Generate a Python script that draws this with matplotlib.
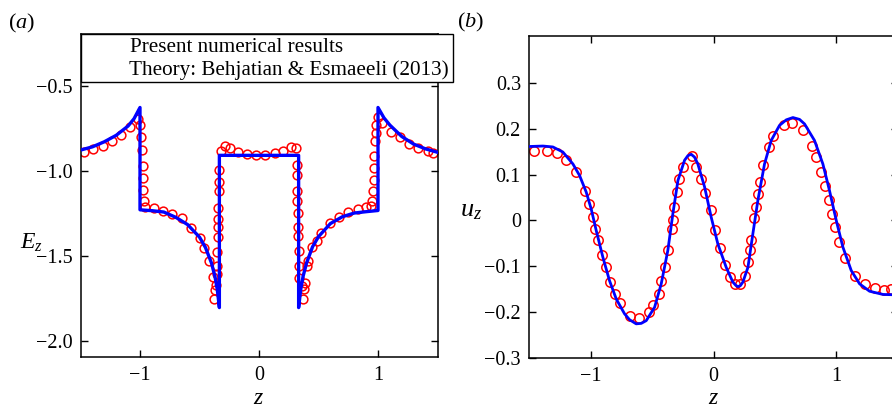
import matplotlib
matplotlib.use("Agg")
import matplotlib.pyplot as plt
from matplotlib.patches import Rectangle

plt.rcParams['font.family'] = ['Liberation Serif', 'DejaVu Serif']
plt.rcParams['mathtext.fontset'] = 'custom'
plt.rcParams['mathtext.rm'] = 'Liberation Serif'
plt.rcParams['mathtext.it'] = 'Liberation Serif:italic'

# ---------------- data: panel (a) ----------------
theory_a_z = [-1.5, -1.4, -1.3, -1.2, -1.1, -1.05, -1.0,
              -1.0, -0.9, -0.8, -0.7, -0.6, -0.5, -0.45, -0.4, -0.37, -0.35, -0.333,
              -0.333, 0.333,
              0.333, 0.35, 0.37, 0.4, 0.45, 0.5, 0.6, 0.7, 0.8, 0.9, 1.0,
              1.0, 1.05, 1.1, 1.2, 1.3, 1.4, 1.5]
theory_a_E = [-0.875, -0.856, -0.826, -0.788, -0.733, -0.690, -0.624,
              -1.227, -1.232, -1.240, -1.271, -1.314, -1.388, -1.449, -1.539, -1.62, -1.70, -1.803,
              -0.906, -0.906,
              -1.803, -1.70, -1.62, -1.54, -1.445, -1.385, -1.308, -1.268, -1.246, -1.238, -1.231,
              -0.624, -0.685, -0.728, -0.795, -0.840, -0.868, -0.888]

num_a_z = [-1.473, -1.394, -1.315, -1.237, -1.162, -1.083, -1.016, -1.002, -0.991, -0.985,
           -0.977, -0.974, -0.974, -0.968, -0.954, -0.884, -0.806, -0.728, -0.649, -0.571,
           -0.492, -0.458, -0.419, -0.385, -0.373, -0.379, -0.362, -0.357, -0.352, -0.349,
           -0.344, -0.344, -0.344, -0.344, -0.336, -0.336, -0.336, -0.316, -0.288, -0.240,
           -0.179, -0.103, -0.024, 0.054, 0.132, 0.205, 0.267, 0.315, 0.322, 0.320,
           0.322, 0.322, 0.327, 0.329, 0.329, 0.334, 0.338, 0.338, 0.359, 0.367,
           0.378, 0.385, 0.400, 0.409, 0.443, 0.485, 0.519, 0.600, 0.675, 0.750,
           0.836, 0.903, 0.945, 0.953, 0.959, 0.965, 0.968, 0.970, 0.975, 0.981,
           0.984, 0.998, 1.037, 1.107, 1.183, 1.261, 1.340, 1.416, 1.466]
num_a_E = [-0.888, -0.871, -0.849, -0.821, -0.786, -0.741, -0.690, -0.729, -0.798, -0.872,
           -0.968, -1.039, -1.108, -1.176, -1.208, -1.219, -1.233, -1.249, -1.278, -1.333,
           -1.394, -1.451, -1.530, -1.623, -1.700, -1.751, -1.672, -1.608, -1.559, -1.475,
           -1.385, -1.331, -1.284, -1.214, -1.116, -1.063, -0.994, -0.882, -0.853, -0.865,
           -0.888, -0.900, -0.904, -0.902, -0.892, -0.878, -0.857, -0.863, -0.961, -1.019,
           -1.118, -1.176, -1.245, -1.327, -1.382, -1.472, -1.559, -1.627, -1.676, -1.755,
           -1.692, -1.661, -1.559, -1.530, -1.447, -1.412, -1.362, -1.304, -1.268, -1.241,
           -1.225, -1.211, -1.205, -1.176, -1.116, -1.052, -0.980, -0.908, -0.824, -0.774,
           -0.725, -0.682, -0.717, -0.766, -0.800, -0.839, -0.862, -0.882, -0.892]

# ---------------- data: panel (b) ----------------
theory_b_z = [-1.498, -1.389, -1.308, -1.227, -1.145, -1.091, -1.037, -0.996, -0.955, -0.901,
              -0.847, -0.792, -0.725, -0.684, -0.630, -0.589, -0.548, -0.480, -0.426, -0.372,
              -0.331, -0.290, -0.236, -0.209, -0.182, -0.155, -0.128, -0.073, -0.019, 0.035,
              0.103, 0.157, 0.180, 0.198, 0.218, 0.239, 0.280, 0.320, 0.361, 0.415,
              0.469, 0.537, 0.592, 0.646, 0.700, 0.741, 0.822, 0.890, 0.944, 0.999,
              1.053, 1.121, 1.189, 1.270, 1.379, 1.500]
theory_b_u = [0.161, 0.162, 0.160, 0.149, 0.123, 0.098, 0.062, 0.025, -0.022, -0.080,
              -0.131, -0.171, -0.203, -0.216, -0.225, -0.224, -0.218, -0.189, -0.138, -0.065,
              0.015, 0.087, 0.131, 0.141, 0.144, 0.138, 0.123, 0.073, 0.007, -0.051,
              -0.102, -0.134, -0.141, -0.144, -0.142, -0.134, -0.102, -0.029, 0.044, 0.123,
              0.174, 0.207, 0.219, 0.224, 0.220, 0.210, 0.174, 0.123, 0.065, 0.000,
              -0.058, -0.109, -0.138, -0.154, -0.161, -0.162]

num_b_z = [-1.463, -1.357, -1.275, -1.199, -1.118, -1.047, -1.012, -0.982, -0.966, -0.939,
           -0.906, -0.879, -0.841, -0.801, -0.760, -0.684, -0.608, -0.529, -0.494, -0.448,
           -0.426, -0.396, -0.369, -0.339, -0.331, -0.318, -0.299, -0.285, -0.247, -0.174,
           -0.141, -0.100, -0.068, -0.024, 0.011, 0.054, 0.092, 0.133, 0.174, 0.214,
           0.252, 0.282, 0.296, 0.307, 0.331, 0.342, 0.361, 0.377, 0.404, 0.448,
           0.486, 0.570, 0.640, 0.725, 0.801, 0.836, 0.877, 0.904, 0.939, 0.966,
           0.990, 1.020, 1.072, 1.148, 1.235, 1.311, 1.387, 1.446]
num_b_u = [0.152, 0.151, 0.147, 0.132, 0.105, 0.064, 0.035, 0.007, -0.018, -0.042,
           -0.076, -0.102, -0.133, -0.160, -0.179, -0.207, -0.213, -0.200, -0.183, -0.160,
           -0.131, -0.102, -0.064, -0.019, 0.000, 0.030, 0.062, 0.091, 0.116, 0.141,
           0.116, 0.091, 0.060, 0.022, -0.020, -0.060, -0.098, -0.122, -0.139, -0.139,
           -0.120, -0.091, -0.065, -0.042, 0.006, 0.029, 0.058, 0.083, 0.121, 0.160,
           0.183, 0.208, 0.212, 0.196, 0.163, 0.138, 0.105, 0.076, 0.045, 0.015,
           -0.015, -0.047, -0.082, -0.120, -0.139, -0.147, -0.151, -0.149]

xticks = [-1, 0, 1]
xticklabels = ['\u22121', '0', '1']
yticks_a = [-2.0, -1.5, -1.0, -0.5]
yticklabels_a = ['\u22122.0', '\u22121.5', '\u22121.0', '\u22120.5']
yticks_b = [-0.3, -0.2, -0.1, 0.0, 0.1, 0.2, 0.3]
yticklabels_b = ['\u22120.3', '\u22120.2', '\u22120.1', '0', '0.1', '0.2', '0.3']
legend_labels = ['Present numerical results', 'Theory: Behjatian & Esmaeeli (2013)']

W, H = 892, 408
fig = plt.figure(figsize=(W / 100, H / 100), dpi=100)

def fx(p):
    return p / W

def fy(p):
    return 1 - p / H

ax1 = fig.add_axes([fx(80.5), fy(357.3), (437.5 - 80.5) / W, (357.3 - 34) / H])
ax2 = fig.add_axes([fx(529.3), fy(358.3), 368.5 / W, (358.3 - 36) / H])

FS = 14.5
red = '#ff0000'
blue = '#0000ff'

ax1.plot(num_a_z, num_a_E, 'o', ms=6.3, mfc='none', mec=red, mew=1.1, zorder=2)
ax1.plot(theory_a_z, theory_a_E, '-', color=blue, lw=2.4, zorder=3)
ax1.set_xlim(-1.5, 1.5)
ax1.set_ylim(-2.096, -0.191)
ax1.set_yticks(yticks_a)
ax1.set_yticklabels(yticklabels_a)

ax2.plot(num_b_z, num_b_u, 'o', ms=6.8, mfc='none', mec=red, mew=1.1, zorder=2)
ax2.plot(theory_b_z, theory_b_u, '-', color=blue, lw=2.0, zorder=3)
ax2.set_xlim(-1.5, 1.5)
ax2.set_ylim(-0.3, 0.4015)
ax2.set_yticks(yticks_b)
ax2.set_yticklabels(yticklabels_b)

for ax in (ax1, ax2):
    ax.set_xticks(xticks)
    ax.set_xticklabels(xticklabels)
    ax.tick_params(direction='in', length=5, width=1.0, top=True, right=True,
                   labelsize=FS, pad=6)
    ax.tick_params(axis='y', pad=6)
    for s in ax.spines.values():
        s.set_linewidth(1.1)

# legend box (panel a)
rect = Rectangle((fx(80.7), fy(82)), (452.7 - 80.7) / W, 48 / H, transform=fig.transFigure,
                 facecolor='white', edgecolor='black', lw=1.0, zorder=5)
fig.add_artist(rect)
fig.text(fx(130), fy(47), legend_labels[0], fontsize=15.2, va='center', ha='left', zorder=6)
fig.text(fx(129), fy(70), legend_labels[1], fontsize=15.2, va='center', ha='left', zorder=6)

# panel labels and axis labels
fig.text(fx(8), fy(23), '($a$)', fontsize=16, va='center', ha='left')
fig.text(fx(457), fy(22), '($b$)', fontsize=16, va='center', ha='left')
fig.text(fx(31), fy(243), '$E_z$', fontsize=17, va='center', ha='center')
fig.text(fx(471), fy(211), '$u_z$', fontsize=19, va='center', ha='center')
fig.text(fx(259), fy(399), '$z$', fontsize=17, va='center', ha='center')
fig.text(fx(714), fy(399), '$z$', fontsize=17, va='center', ha='center')

fig.savefig('out.png', dpi=100)
